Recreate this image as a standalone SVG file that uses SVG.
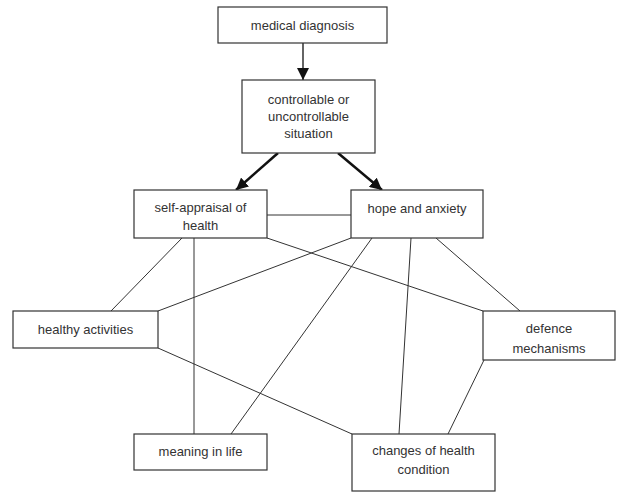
<svg xmlns="http://www.w3.org/2000/svg" width="617" height="493" viewBox="0 0 617 493">
<style>
.box{fill:#fff;stroke:#333;stroke-width:1.2}
.t{font-family:"Liberation Sans",Arial,sans-serif;font-size:13px;fill:#333;text-anchor:middle}
.c{stroke:#333;stroke-width:1;fill:none}
.a{stroke:#111;stroke-width:1.3;fill:none}
.ab{stroke:#111;stroke-width:2.5;fill:none}
</style>
<defs>
<marker id="ah" markerUnits="userSpaceOnUse" viewBox="0 0 12 12" refX="12" refY="6" markerWidth="12" markerHeight="12" orient="auto">
<path d="M0,0 L12,6 L0,12 Z" fill="#111"/>
</marker>
</defs>
<rect width="617" height="493" fill="#fff"/>
<g id="connectors">
<line class="a" x1="303" y1="43" x2="303" y2="80" marker-end="url(#ah)"/>
<line class="ab" x1="278" y1="153" x2="236" y2="190" marker-end="url(#ah)"/>
<line class="ab" x1="338" y1="153" x2="382" y2="190" marker-end="url(#ah)"/>
<line class="c" x1="267" y1="215" x2="351" y2="215"/>
<line class="c" x1="182" y1="238" x2="111" y2="311"/>
<line class="c" x1="194" y1="238" x2="194" y2="434"/>
<line class="c" x1="267" y1="238" x2="483" y2="311"/>
<line class="c" x1="351" y1="238" x2="158" y2="311"/>
<line class="c" x1="372" y1="238" x2="231" y2="434"/>
<line class="c" x1="411" y1="238" x2="399" y2="434"/>
<line class="c" x1="436" y1="238" x2="520" y2="311"/>
<line class="c" x1="158" y1="348" x2="352" y2="434"/>
<line class="c" x1="484" y1="360" x2="448" y2="434"/>
</g>
<g id="medical-diagnosis">
<rect class="box" x="218" y="7" width="169" height="36"/>
<text class="t" x="302.5" y="29.5">medical diagnosis</text>
</g>
<g id="controllable-situation">
<rect class="box" x="242" y="80" width="133" height="73"/>
<text class="t" x="308.5" y="103.5">controllable or</text>
<text class="t" x="308.5" y="120.5">uncontrollable</text>
<text class="t" x="308.5" y="137.5">situation</text>
</g>
<g id="self-appraisal">
<rect class="box" x="134" y="190" width="133" height="48"/>
<text class="t" x="200.5" y="211.5">self-appraisal of</text>
<text class="t" x="200.5" y="229.5">health</text>
</g>
<g id="hope-anxiety">
<rect class="box" x="351" y="190" width="132" height="48"/>
<text class="t" x="417" y="212.5">hope and anxiety</text>
</g>
<g id="healthy-activities">
<rect class="box" x="13" y="311" width="145" height="37"/>
<text class="t" x="85.5" y="333.5">healthy activities</text>
</g>
<g id="defence-mechanisms">
<rect class="box" x="483" y="311" width="132" height="49"/>
<text class="t" x="549" y="332.5">defence</text>
<text class="t" x="549" y="352.5">mechanisms</text>
</g>
<g id="meaning-in-life">
<rect class="box" x="134" y="434" width="133" height="36"/>
<text class="t" x="200.5" y="455.5">meaning in life</text>
</g>
<g id="changes-health">
<rect class="box" x="352" y="434" width="143" height="57"/>
<text class="t" x="423.5" y="454.5">changes of health</text>
<text class="t" x="423.5" y="473.5">condition</text>
</g>
</svg>
